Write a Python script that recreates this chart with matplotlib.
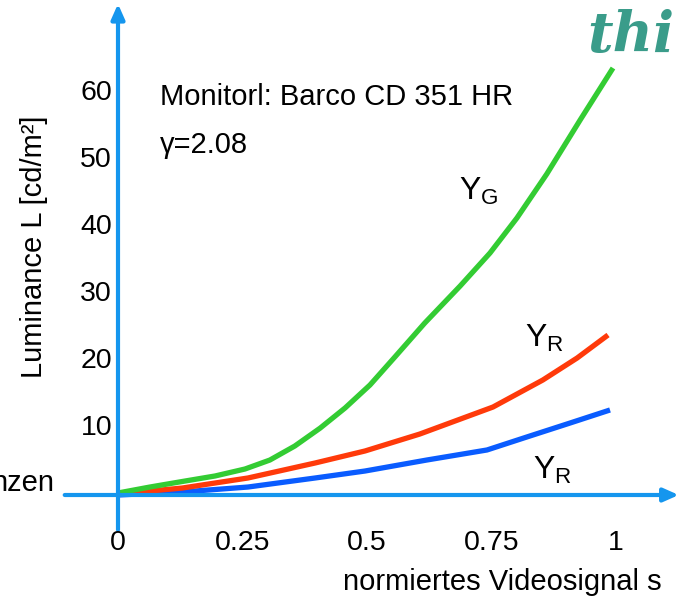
import matplotlib
matplotlib.use('Agg')
import matplotlib.pyplot as plt

plt.rcParams['font.family'] = ['Liberation Sans', 'DejaVu Sans']
plt.rcParams['mathtext.fontset'] = 'custom'
plt.rcParams['mathtext.rm'] = 'Liberation Sans'

# curves (s normalised, L in cd/m^2)
s_green = [0, 0.064, 0.135, 0.195, 0.255, 0.305, 0.355, 0.406, 0.456, 0.506,
           0.556, 0.616, 0.687, 0.747, 0.801, 0.861, 0.928, 0.994]
L_green = [0.3, 1.19, 2.09, 2.84, 3.88, 5.22, 7.31, 9.99, 12.99, 16.42,
           20.6, 25.67, 31.19, 36.12, 41.34, 47.91, 55.97, 63.73]
s_red = [0, 0.129, 0.261, 0.396, 0.496, 0.606, 0.753, 0.853, 0.922, 0.984]
L_red = [0.15, 1.04, 2.54, 4.78, 6.57, 9.10, 13.13, 17.16, 20.45, 23.88]
s_blue = [0, 0.129, 0.261, 0.396, 0.496, 0.620, 0.741, 0.821, 0.908, 0.988]
L_blue = [0, 0.45, 1.19, 2.54, 3.58, 5.22, 6.72, 8.66, 10.75, 12.69]

x_ticks = [0, 0.25, 0.5, 0.75, 1]
x_tick_labels = ['0', '0.25', '0.5', '0.75', '1']
y_ticks = [10, 20, 30, 40, 50, 60]

axis_col = '#1596EE'

fig = plt.figure(figsize=(6.94, 6.04), dpi=100)
ax = fig.add_axes([0, 0, 1, 1])
ax.set_xlim(-118 / 498, (694 - 118) / 498)
ax.set_ylim((495 - 604) / 6.7, 495 / 6.7)
ax.axis('off')

# axes with arrows
ax.annotate('', xy=(0, 73.3), xytext=(0, -5.2),
            arrowprops=dict(arrowstyle='-|>,head_length=0.9,head_width=0.4',
                            color=axis_col, lw=3, shrinkA=0, shrinkB=0))
ax.annotate('', xy=(1.126, 0), xytext=(-0.107, 0),
            arrowprops=dict(arrowstyle='-|>,head_length=0.9,head_width=0.4',
                            color=axis_col, lw=3, shrinkA=0, shrinkB=0))

ax.plot(s_blue, L_blue, color='#0A5CFF', lw=3.8, solid_capstyle='butt', solid_joinstyle='round')
ax.plot(s_red, L_red, color='#FF3A0A', lw=3.8, solid_capstyle='butt', solid_joinstyle='round')
ax.plot(s_green, L_green, color='#33CC33', lw=3.8, solid_capstyle='butt', solid_joinstyle='round')

for xv, lab in zip(x_ticks, x_tick_labels):
    ax.text(xv, -7.2, lab, fontsize=20.5, ha='center', va='center')
for yv in y_ticks:
    ax.text(-0.012, yv, str(yv), fontsize=20.5, ha='right', va='center')

ax.text(1.092, -13.0, 'normiertes Videosignal s', fontsize=21, ha='right', va='center')
ax.text(-0.168, 37.0, 'Luminance L [cd/m²]', fontsize=21, rotation=90,
        ha='center', va='center')
ax.text(-0.129, 1.8, 'nzen', fontsize=21, ha='right', va='center')

ax.text(0.084, 59.4, 'Monitorl: Barco CD 351 HR', fontsize=21, ha='left', va='center')
ax.text(0.084, 52.2, 'γ=2.08', fontsize=21, ha='left', va='center')

ax.text(0.685, 45.3, r'$\mathregular{Y_G}$', fontsize=23, ha='left', va='center')
ax.text(0.817, 23.4, r'$\mathregular{Y_R}$', fontsize=23, ha='left', va='center')
ax.text(0.833, 3.6, r'$\mathregular{Y_R}$', fontsize=23, ha='left', va='center')

# logo
ax.text(1.03, 68.5, 'thi', fontsize=40, color='#3A9C8A', fontstyle='italic',
        fontweight='bold', family='DejaVu Serif', ha='center', va='center')

fig.savefig('out.png', dpi=100)
